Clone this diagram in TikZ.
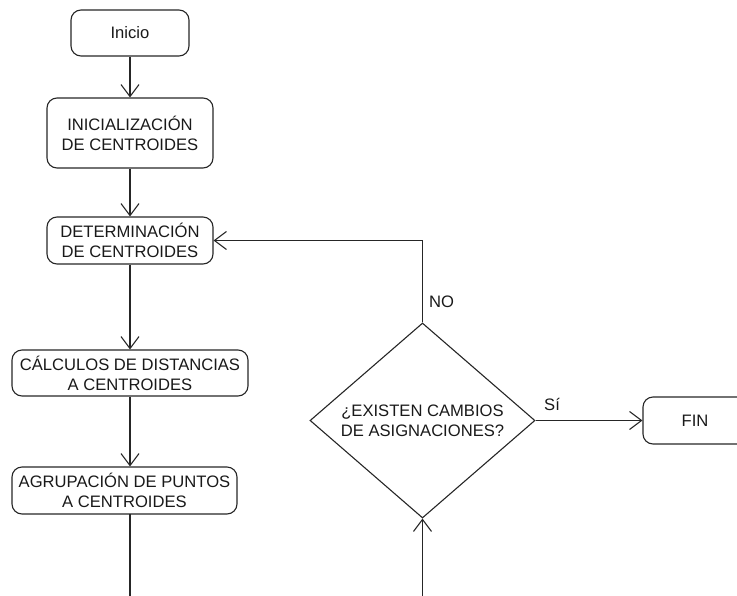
\documentclass[tikz,border=0pt]{standalone}
\usepackage{fontspec}
\setmainfont{Liberation Sans}
\usetikzlibrary{shapes.geometric,arrows.meta}
\begin{document}
\begin{tikzpicture}[x=1pt,y=-1pt,
  font=\fontsize{16.6}{20}\selectfont,
  every node/.style={text=black!90},
  stepbox/.style={draw=black!85, line width=1.1pt, rounded corners=10pt,
    align=center, inner sep=0pt},
  decision/.style={draw=black!85, line width=1.1pt, shape=diamond,
    align=center, inner sep=0pt, minimum width=225pt, minimum height=187pt},
  flow/.style={draw=black!85, line width=1.1pt,
    -{Straight Barb[length=12pt,width=18pt,line width=1.1pt]}},
  plain/.style={draw=black!85, line width=1.1pt}]
\useasboundingbox (0,0) rectangle (737,595);
\begin{scope}
\clip (0,0) rectangle (737,595);

% process boxes
\node[stepbox, minimum width=118pt, minimum height=46pt] (inicio) at (130,33) {Inicio};
\node[stepbox, minimum width=166pt, minimum height=70pt] (init) at (130,133) {INICIALIZACIÓN\\DE CENTROIDES};
\node[stepbox, minimum width=166pt, minimum height=47pt] (det) at (130,240.5) {DETERMINACIÓN\\DE CENTROIDES};
\node[stepbox, minimum width=236pt, minimum height=46pt] (calc) at (130,373) {CÁLCULOS DE DISTANCIAS\\A CENTROIDES};
\node[stepbox, minimum width=225pt, minimum height=47pt] (agr) at (124.5,490.5) {AGRUPACIÓN DE PUNTOS\\A CENTROIDES};

% decision and end
\node[decision] (dec) at (422.5,420.5) {¿EXISTEN CAMBIOS\\DE ASIGNACIONES?};
\node[stepbox, minimum width=104pt, minimum height=47pt] (fin) at (695,420.5) {FIN};

% free ends at the lower edge
\coordinate (agrout) at (130,514);
\coordinate (downL) at (130,600);
\coordinate (downR) at (422.5,600);

% connectors
\draw[flow] (inicio) -- (init);
\draw[flow] (init) -- (det);
\draw[flow] (det) -- (calc);
\draw[flow] (calc.south) -- (calc.south |- agr.north);
\draw[plain] (agrout) -- (downL);
\draw[flow] (downR) -- (dec.south);
\draw[flow] (dec.north) |- (det.east);
\draw[flow] (dec.east) -- (fin.west);

% branch labels
\node[anchor=west, inner sep=0pt] (no) at (429,301.5) {NO};
\node[anchor=west, inner sep=0pt] (si) at (544,404.5) {Sí};
\end{scope}
\end{tikzpicture}
\end{document}
